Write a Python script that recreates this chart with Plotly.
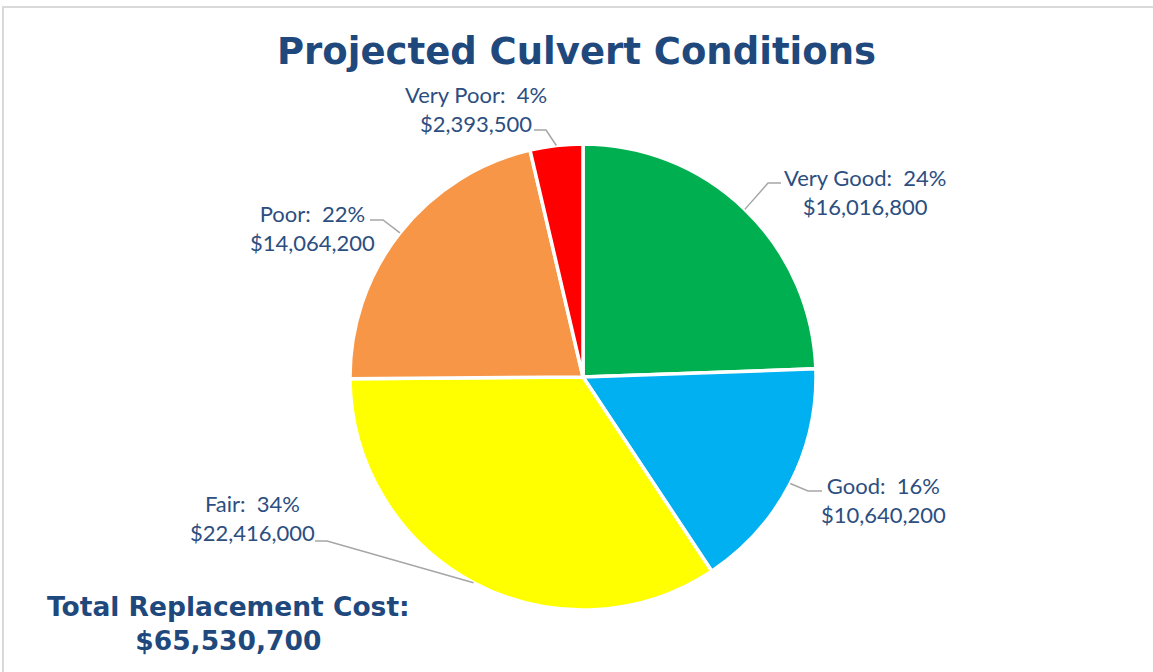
import math
import plotly.graph_objects as go

# data
conditions = ["Very Good", "Good", "Fair", "Poor", "Very Poor"]
costs = [16016800, 10640200, 22416000, 14064200, 2393500]
percents = [24, 16, 34, 22, 4]
colors = ["#00B050", "#00B0F0", "#FFFF00", "#F79646", "#FF0000"]

W, H = 1153, 672
cx, cy, r = 583, 377, 233  # pie centre / radius in px

# label layout (px): text centre, leader start x, leader elbow x, leader y
label_xy = {
    "Very Good": (865, 192), "Good": (883, 500), "Fair": (252, 518),
    "Poor": (312, 228), "Very Poor": (476, 109),
}
leaders = {
    "Very Good": (781, 768, 183), "Good": (822, 808, 491), "Fair": (315, 327, 541),
    "Poor": (370, 383, 220), "Very Poor": (534, 546, 130),
}

total = sum(costs)
text_col = "#2C4E80"
title_col = "#1F497D"


def px(x, y):
    return x / W, 1 - y / H


fig = go.Figure(go.Pie(
    labels=conditions, values=costs, sort=False, direction="clockwise", rotation=0,
    marker=dict(colors=colors, line=dict(color="white", width=3.5)),
    textinfo="none", hoverinfo="label+value+percent",
    domain=dict(x=[(cx - r) / W, (cx + r) / W], y=[1 - (cy + r) / H, 1 - (cy - r) / H]),
    showlegend=False,
))

# leader lines + labels
shapes = []
annotations = []
cum = 0
for name, val, pct in zip(conditions, costs, percents):
    mid = (cum + val / 2) / total
    cum += val
    ang = 2 * math.pi * mid
    ex, ey = cx + r * math.sin(ang), cy - r * math.cos(ang)
    sx, bx, ly = leaders[name]
    p = [px(sx, ly), px(bx, ly), px(ex, ey)]
    shapes.append(dict(type="path", xref="paper", yref="paper",
                       path="M %f,%f L %f,%f L %f,%f" % (p[0][0], p[0][1], p[1][0], p[1][1], p[2][0], p[2][1]),
                       line=dict(color="#A6A6A6", width=1.5)))
    tx, ty = label_xy[name]
    annotations.append(dict(x=tx / W, y=1 - ty / H, xref="paper", yref="paper",
                            xanchor="center", yanchor="middle",
                            text="%s:  %d%%<br>$%s" % (name, pct, format(val, ",")),
                            showarrow=False, align="center",
                            font=dict(family="Lato", size=22, color=text_col)))

annotations.append(dict(x=228 / W, y=1 - 623 / H, xref="paper", yref="paper",
                        xanchor="center", yanchor="middle",
                        text="<b>Total Replacement Cost:<br>$%s</b>" % format(total, ","),
                        showarrow=False, align="center",
                        font=dict(family="DejaVu Sans", size=26.5, color=title_col)))

# chart frame (top and left edge)
shapes.append(dict(type="path", xref="paper", yref="paper",
                   path="M %f,0 L %f,%f L 1,%f" % (3 / W, 3 / W, 1 - 7 / H, 1 - 7 / H),
                   line=dict(color="#D9D9D9", width=2)))

fig.update_layout(
    width=W, height=H,
    margin=dict(l=0, r=0, t=0, b=0),
    paper_bgcolor="white", plot_bgcolor="white",
    title=dict(text="<b>Projected Culvert Conditions</b>", x=0.5, xanchor="center",
               y=1 - 51 / H, yanchor="middle",
               font=dict(family="DejaVu Sans", size=37, color=title_col)),
    shapes=shapes, annotations=annotations,
)

fig.write_html("out.html", config={"displayModeBar": False},
               post_script="document.body.style.margin='0';")
